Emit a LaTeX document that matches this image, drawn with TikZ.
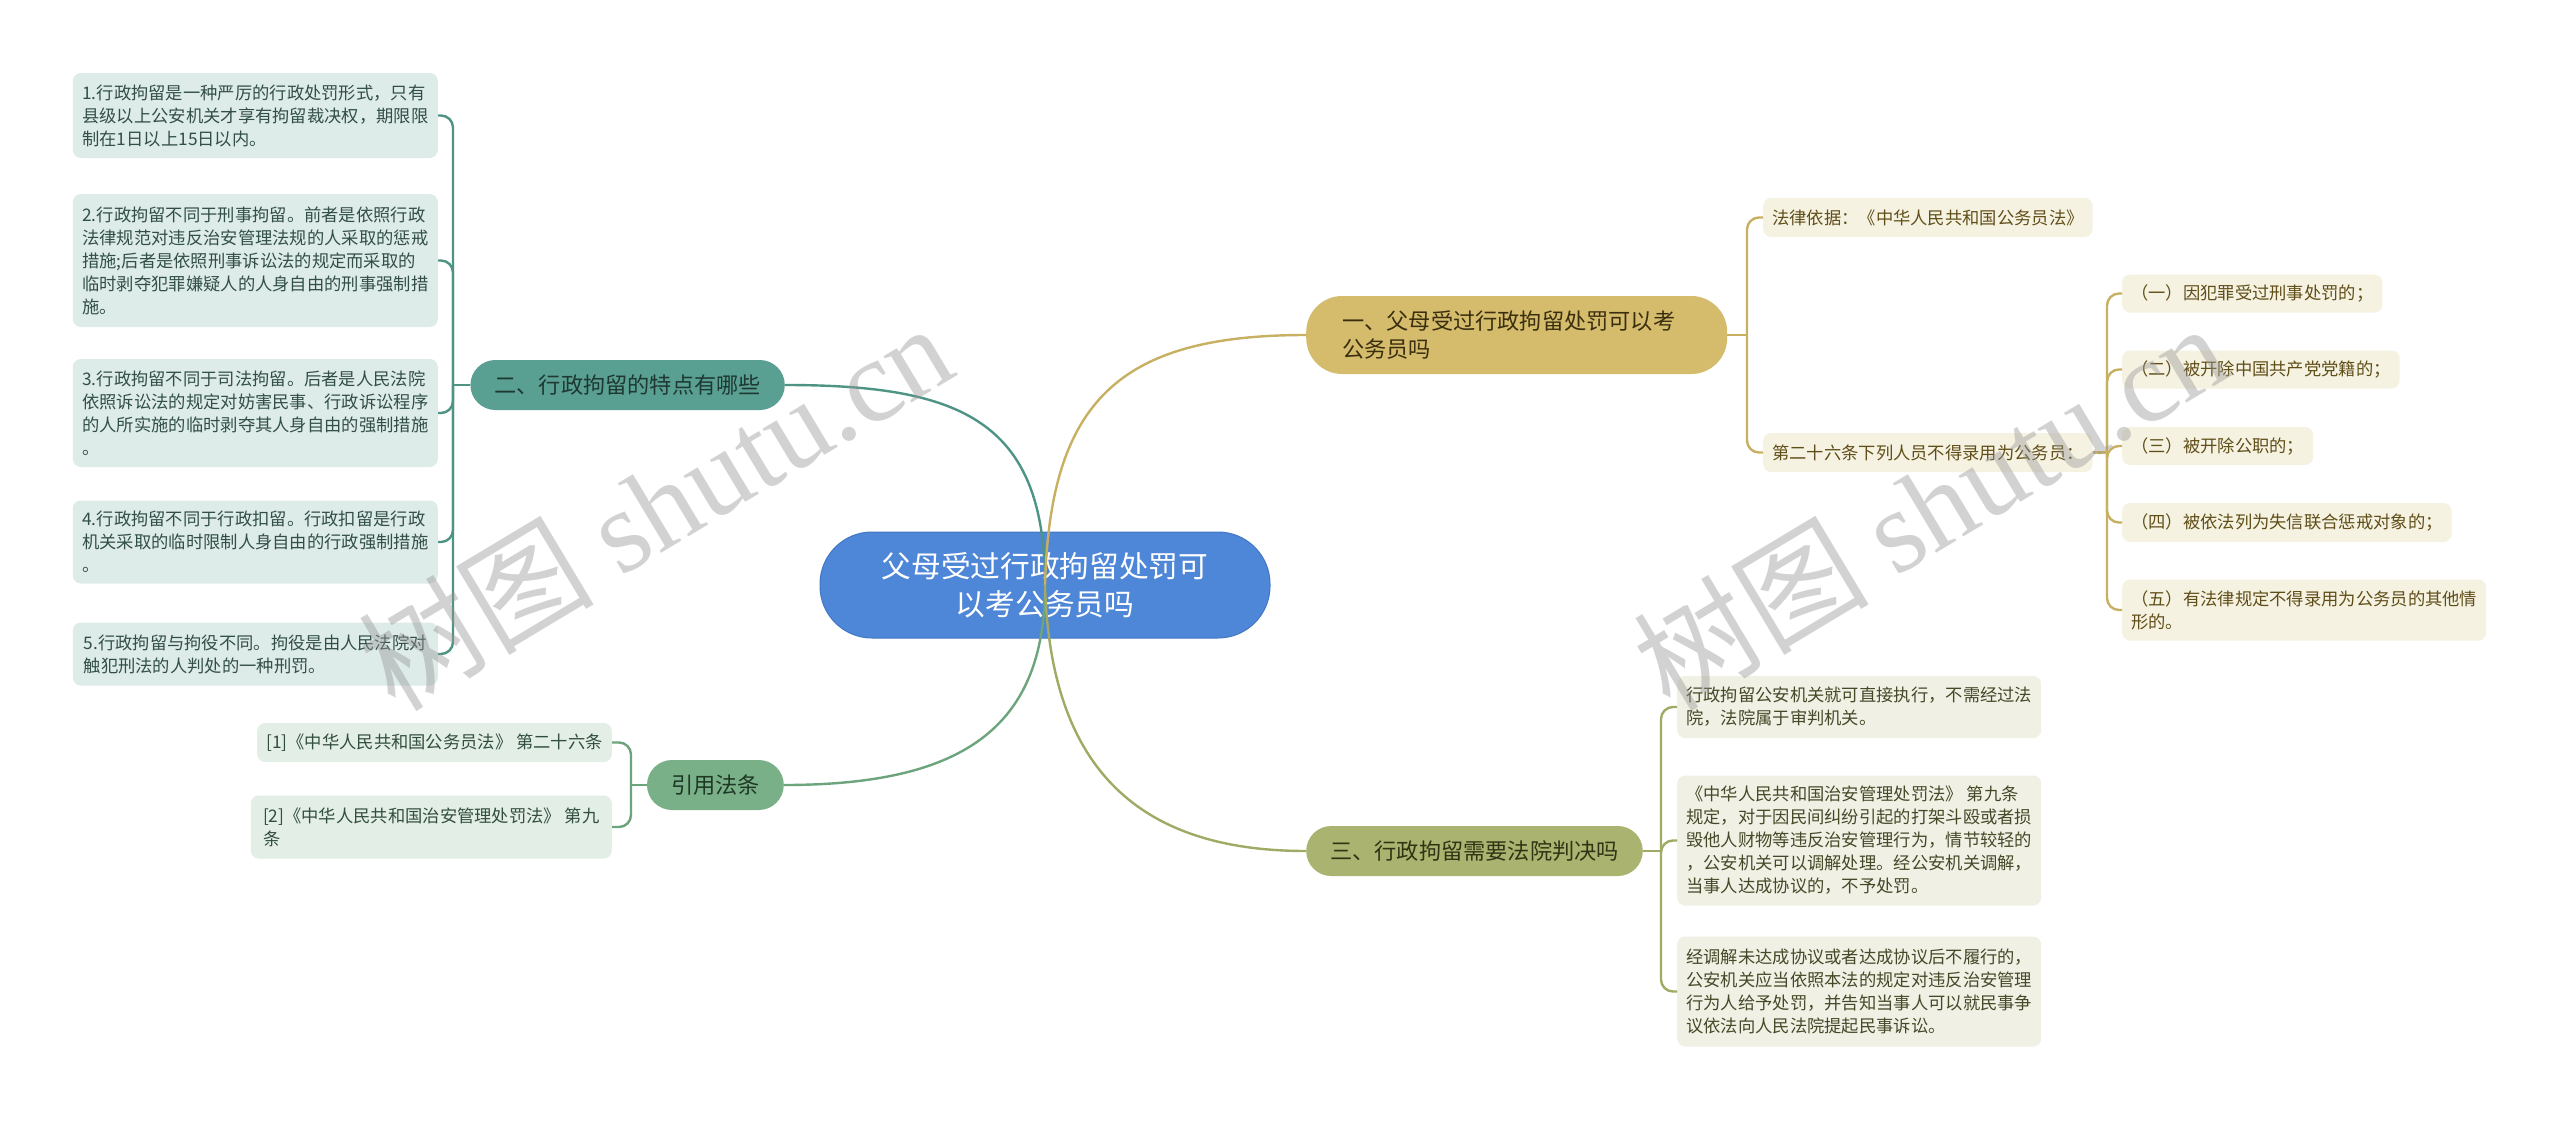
\documentclass[tikz,border=0pt]{standalone}
\usepackage{fontspec}
\setmainfont{Noto Sans CJK SC}
\newfontfamily\wmserif{Liberation Serif}
\newfontfamily\wmcjk{Noto Sans CJK SC}
\newcommand\leaffont{\fontsize{17.3pt}{23pt}\selectfont}
\newcommand\brfont{\fontsize{22.2pt}{28pt}\selectfont}
\newcommand\rootfont{\fontsize{29.7pt}{37.5pt}\selectfont}
\newcommand\wmfont{\fontsize{118pt}{120pt}\selectfont}
\definecolor{rootblue}{RGB}{78,134,216}
\definecolor{rootedge}{RGB}{66,118,196}
\definecolor{goldfill}{RGB}{212,188,108}
\definecolor{goldline}{RGB}{200,176,98}
\definecolor{goldtx}{RGB}{58,46,14}
\definecolor{goldleaf}{RGB}{245,242,226}
\definecolor{goldleaftx}{RGB}{96,78,24}
\definecolor{tealfill}{RGB}{90,160,146}
\definecolor{tealline}{RGB}{78,148,133}
\definecolor{tealtx}{RGB}{30,56,50}
\definecolor{tealleaf}{RGB}{222,236,233}
\definecolor{tealleaftx}{RGB}{50,78,72}
\definecolor{greenfill}{RGB}{122,176,136}
\definecolor{greenline}{RGB}{108,164,124}
\definecolor{greentx}{RGB}{30,56,38}
\definecolor{greenleaf}{RGB}{226,238,230}
\definecolor{greenleaftx}{RGB}{50,78,60}
\definecolor{olivefill}{RGB}{170,180,112}
\definecolor{oliveline}{RGB}{160,170,100}
\definecolor{olivetx}{RGB}{48,52,20}
\definecolor{oliveleaf}{RGB}{240,241,228}
\definecolor{oliveleaftx}{RGB}{70,72,40}
\definecolor{wmgray}{RGB}{150,150,150}
\begin{document}
\begin{tikzpicture}[x=1pt,y=-1pt,
  leaf/.style={rounded corners=8pt, inner xsep=9pt, inner ysep=4pt, align=left, font=\leaffont},
  leafT/.style={leaf, fill=tealleaf, text=tealleaftx, minimum width=365pt},
  leafG/.style={leaf, fill=greenleaf, text=greenleaftx},
  leafY/.style={leaf, fill=goldleaf, text=goldleaftx},
  leafO/.style={leaf, fill=oliveleaf, text=oliveleaftx, minimum width=362pt},
  brnode/.style={rounded corners=25pt, inner xsep=24pt, inner ysep=4pt, font=\brfont, minimum height=50pt},
  rootnode/.style={rounded corners=52pt, fill=rootblue, draw=rootedge, line width=1pt, text=white, align=center, font=\rootfont, minimum width=450pt, minimum height=106pt},
  conn/.style={line width=2.4pt},
  wm/.style={text=wmgray, opacity=0.42, font=\wmfont, rotate=31}
]
\useasboundingbox[fill=white] (0,0) rectangle (2560,1122);

% ---------- root ----------
\node[rootnode] (root) at (1045,585) {父母受过行政拘留处罚可\\以考公务员吗};

% ---------- branches ----------
\node[brnode, fill=goldfill, text=goldtx, anchor=west, align=left, text width=349pt, inner xsep=36pt, minimum height=78pt, rounded corners=36pt] (b1) at (1306,335) {一、父母受过行政拘留处罚可以考\\公务员吗};
\node[brnode, fill=tealfill, text=tealtx, anchor=east] (b2) at (785,385) {二、行政拘留的特点有哪些};
\node[brnode, fill=olivefill, text=olivetx, anchor=west] (b3) at (1306,851) {三、行政拘留需要法院判决吗};
\node[brnode, fill=greenfill, text=greentx, anchor=east] (b4) at (784,785) {引用法条};

% ---------- branch 2 leaves ----------
\node[leafT, anchor=east, minimum height=85pt] (t1) at (438,115.5) {1.行政拘留是一种严厉的行政处罚形式，只有\\县级以上公安机关才享有拘留裁决权，期限限\\制在1日以上15日以内。};
\node[leafT, anchor=east, minimum height=133pt] (t2) at (438,260.5) {2.行政拘留不同于刑事拘留。前者是依照行政\\法律规范对违反治安管理法规的人采取的惩戒\\措施;后者是依照刑事诉讼法的规定而采取的\\临时剥夺犯罪嫌疑人的人身自由的刑事强制措\\施。};
\node[leafT, anchor=east, minimum height=108pt] (t3) at (438,413) {3.行政拘留不同于司法拘留。后者是人民法院\\依照诉讼法的规定对妨害民事、行政诉讼程序\\的人所实施的临时剥夺其人身自由的强制措施\\。};
\node[leafT, anchor=east, minimum height=83pt] (t4) at (438,542) {4.行政拘留不同于行政扣留。行政扣留是行政\\机关采取的临时限制人身自由的行政强制措施\\。};
\node[leafT, anchor=east, minimum height=63pt] (t5) at (438,654) {5.行政拘留与拘役不同。拘役是由人民法院对\\触犯刑法的人判处的一种刑罚。};

% ---------- branch 4 leaves ----------
\node[leafG, anchor=east, minimum height=39pt] (g1) at (612,742.5) {[1]《中华人民共和国公务员法》 第二十六条};
\node[leafG, anchor=east, minimum height=63pt, minimum width=361pt] (g2) at (612,827) {[2]《中华人民共和国治安管理处罚法》 第九\\条};

% ---------- branch 1 leaves ----------
\node[leafY, anchor=west, minimum height=39pt] (y1) at (1763,217.5) {法律依据：《中华人民共和国公务员法》};
\node[leafY, anchor=west, minimum height=39pt] (y2) at (1763,452.5) {第二十六条下列人员不得录用为公务员：};
\node[leafY, anchor=west, minimum height=38pt] (s1) at (2122,293.5) {（一）因犯罪受过刑事处罚的；};
\node[leafY, anchor=west, minimum height=38pt] (s2) at (2122,369.5) {（二）被开除中国共产党党籍的；};
\node[leafY, anchor=west, minimum height=38pt] (s3) at (2122,446) {（三）被开除公职的；};
\node[leafY, anchor=west, minimum height=39pt] (s4) at (2122,522.5) {（四）被依法列为失信联合惩戒对象的；};
\node[leafY, anchor=west, minimum height=61pt, minimum width=364pt] (s5) at (2122,610) {（五）有法律规定不得录用为公务员的其他情\\形的。};

% ---------- branch 3 leaves ----------
\node[leafO, anchor=west, minimum height=62pt] (o1) at (1677,707) {行政拘留公安机关就可直接执行，不需经过法\\院，法院属于审判机关。};
\node[leafO, anchor=west, minimum height=130pt] (o2) at (1677,840.5) {《中华人民共和国治安管理处罚法》 第九条\\规定，对于因民间纠纷引起的打架斗殴或者损\\毁他人财物等违反治安管理行为，情节较轻的\\，公安机关可以调解处理。经公安机关调解，\\当事人达成协议的，不予处罚。};
\node[leafO, anchor=west, minimum height=110pt] (o3) at (1677,991.5) {经调解未达成协议或者达成协议后不履行的，\\公安机关应当依照本法的规定对违反治安管理\\行为人给予处罚，并告知当事人可以就民事争\\议依法向人民法院提起民事诉讼。};

% ---------- spine coordinates ----------
\coordinate (k2) at (453,385);
\coordinate (k4) at (631,785);
\coordinate (k1) at (1747,335);
\coordinate (k3) at (1661,851);
\coordinate (k5) at (2107,452.5);

% ---------- connectors ----------
\draw[conn, tealline] (b2.west) -- (k2);
\foreach \n in {t1,t2,t3,t4,t5} \draw[conn, tealline, rounded corners=12pt] (k2) |- (\n.east);
\draw[conn, greenline] (b4.west) -- (k4);
\foreach \n in {g1,g2} \draw[conn, greenline, rounded corners=12pt] (k4) |- (\n.east);
\draw[conn, goldline] (b1.east) -- (k1);
\foreach \n in {y1,y2} \draw[conn, goldline, rounded corners=12pt] (k1) |- (\n.west);
\draw[conn, goldline] (y2.east) -- (k5);
\foreach \n in {s1,s2,s3,s4,s5} \draw[conn, goldline, rounded corners=12pt] (k5) |- (\n.west);
\draw[conn, oliveline] (b3.east) -- (k3);
\foreach \n in {o1,o2,o3} \draw[conn, oliveline, rounded corners=12pt] (k3) |- (\n.west);

\draw[conn, tealline] (root.center) .. controls (1045,420) and (960,385) .. (b2.east);
\draw[conn, goldline] (root.center) .. controls (1050,400) and (1120,335) .. (b1.west);
\draw[conn, greenline] (root.center) .. controls (1045,730) and (960,785) .. (b4.east);
\draw[conn, oliveline] (root.center) .. controls (1050,760) and (1130,851) .. (b3.west);

% ---------- watermarks ----------
\node[wm] (wm1) at (655,505) {{\wmcjk 树图} {\wmserif shutu.cn}};
\node[wm] (wm2) at (1930,505) {{\wmcjk 树图} {\wmserif shutu.cn}};
\end{tikzpicture}
\end{document}
